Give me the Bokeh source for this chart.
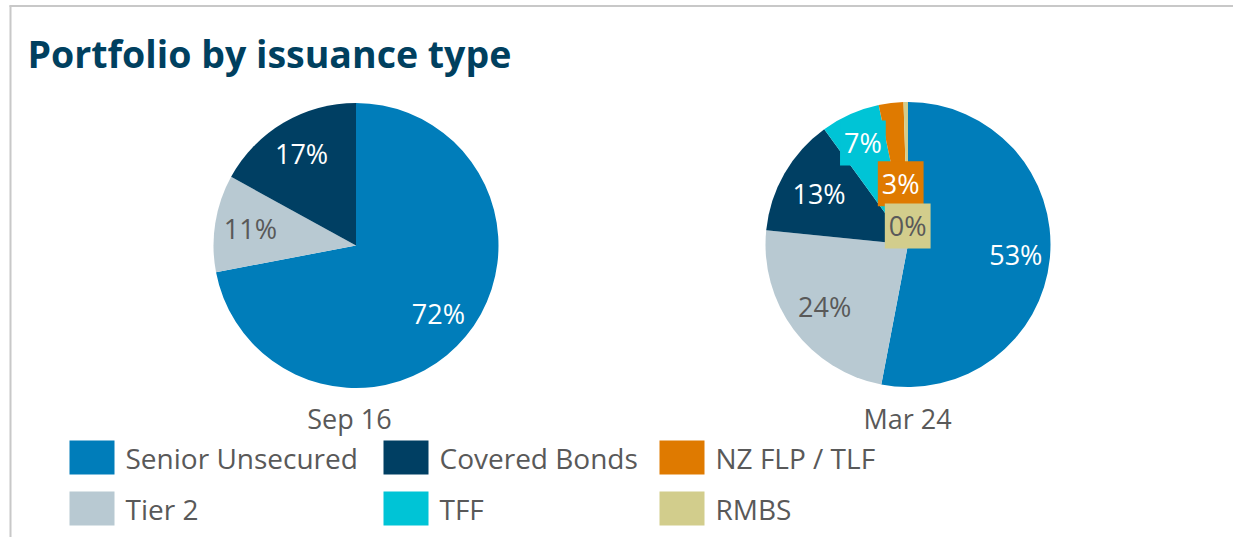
import numpy as np
from bokeh.plotting import figure
from bokeh.models import Range1d, ColumnDataSource
from bokeh.core.properties import value
from bokeh.embed import file_html
from bokeh.resources import INLINE

# ---------------- data ----------------
title = "Portfolio by issuance type"
categories = ["Senior Unsecured", "Tier 2", "Covered Bonds", "TFF", "NZ FLP / TLF", "RMBS"]
periods = ["Sep 16", "Mar 24"]
sep16 = [72.0, 11.0, 17.0, 0.0, 0.0, 0.0]
mar24 = [53.0, 23.6, 13.4, 6.7, 2.8, 0.5]

# ---------------- style ----------------
colors = ["#007dba", "#b8c9d2", "#003f63", "#00c4d6", "#df7a00", "#d2cd8c"]
label_colors = ["white", "#595959", "white", "white", "white", "#595959"]
label_box_alpha = [0, 0, 0, 1, 1, 1]
TEXT_GREY = "#595959"
TITLE_COLOR = "#00405f"
FONT = "Open Sans"

W, H = 1233, 537


def X(xref):
    return xref


def Y(yref):
    return H - yref


p = figure(width=W, height=H, x_range=Range1d(0, W), y_range=Range1d(0, H),
           output_backend="svg", toolbar_location=None, min_border=0,
           outline_line_color=None, x_axis_location=None, y_axis_location=None)
p.grid.visible = False
p.background_fill_color = "white"
p.border_fill_color = "white"

# frame lines (top and left)
p.segment(x0=[X(9), X(10)], y0=[Y(5.5), Y(5)], x1=[W, X(10)], y1=[Y(5.5), 0],
          line_color="#c8c8c8", line_width=2)

# title
p.text(x=[X(27)], y=[Y(53)], text=[title], text_font=value(FONT),
       text_font_style="bold", text_font_size="37.5px", text_color=TITLE_COLOR,
       text_align="left", text_baseline="middle")

# pies
centers = [(355.5, 245.0), (907.5, 244.0)]
R = 142.5
period_label_x = [349, 907]
label_radius = [[0.75] * 6, [0.76, 0.73, 0.72, 0.78, 0.43, 0.13]]

for k, vals in enumerate([sep16, mar24]):
    vals = np.array(vals, dtype=float)
    frac = vals / vals.sum()
    c1 = np.cumsum(frac)
    c0 = c1 - frac
    keep = frac > 0
    cx, cy = X(centers[k][0]), Y(centers[k][1])
    src = ColumnDataSource(dict(
        start=(np.pi / 2 - 2 * np.pi * c1)[keep],
        end=(np.pi / 2 - 2 * np.pi * c0)[keep],
        color=np.array(colors)[keep].tolist(),
    ))
    p.wedge(x=cx, y=cy, radius=R, start_angle="start", end_angle="end",
            direction="anticlock", fill_color="color", line_color=None, source=src)

    mid = (c0 + c1) / 2
    rf = np.array(label_radius[k])
    lx = cx + rf * R * np.sin(2 * np.pi * mid)
    ly = cy + rf * R * np.cos(2 * np.pi * mid)
    txt = [f"{v:.0f}%" for v in vals]
    lsrc = ColumnDataSource(dict(
        x=lx[keep], y=ly[keep], text=np.array(txt)[keep].tolist(),
        color=np.array(label_colors)[keep].tolist(),
        bg=np.array(colors)[keep].tolist(),
        bga=np.array(label_box_alpha, dtype=float)[keep],
    ))
    p.text(x="x", y="y", text="text", source=lsrc, text_font=value(FONT),
           text_font_size="27px", text_color="color", text_align="center",
           text_baseline="middle", background_fill_color="bg",
           background_fill_alpha="bga", padding=4)

    p.text(x=[X(period_label_x[k])], y=[Y(418)], text=[periods[k]],
           text_font=value(FONT), text_font_size="27px", text_color=TEXT_GREY,
           text_align="center", text_baseline="middle")

# legend (column-major, 2 rows)
col_x = [69, 383, 659]
row_top = [440, 491]
SQ_W, SQ_H = 45, 34
lg_left, lg_top, lg_text_x, lg_text_y = [], [], [], []
for i, cat in enumerate(categories):
    cxr = col_x[i // 2]
    ryr = row_top[i % 2]
    lg_left.append(X(cxr))
    lg_top.append(Y(ryr))
    lg_text_x.append(X(cxr + 56))
    lg_text_y.append(Y(ryr + 17))
lg_left = np.array(lg_left, dtype=float)
lg_top = np.array(lg_top, dtype=float)
p.quad(left=lg_left, right=lg_left + SQ_W, top=lg_top, bottom=lg_top - SQ_H,
       fill_color=colors, line_color=None)
p.text(x=lg_text_x, y=lg_text_y, text=categories, text_font=value(FONT),
       text_font_size="28px", text_color=TEXT_GREY, text_align="left",
       text_baseline="middle")

open("out.html", "w").write(file_html(p, INLINE))
